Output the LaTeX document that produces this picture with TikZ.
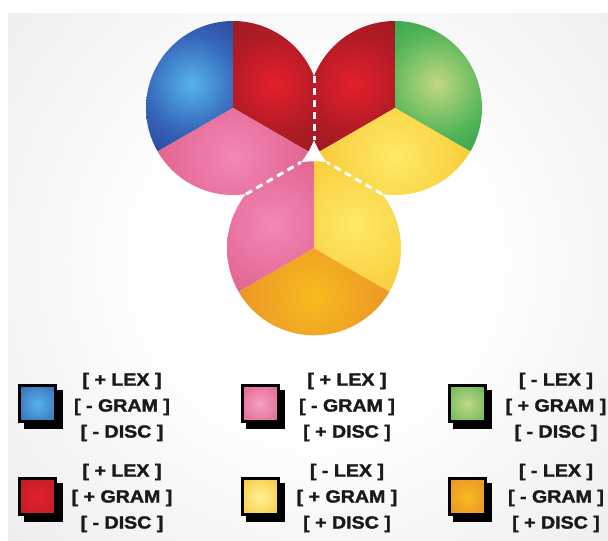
\documentclass[tikz,border=0pt]{standalone}
\usepackage{fontspec}
\newfontfamily\legfont{Liberation Sans Bold}[FakeStretch=1.12,FakeBold=1.8]
\usetikzlibrary{calc}

\definecolor{bgOut}{HTML}{D3CFD5}
\definecolor{blueIn}{HTML}{55B4EA}
\definecolor{blueMid}{HTML}{3463B8}
\definecolor{blueOut}{HTML}{22237E}
\definecolor{redIn}{HTML}{E4202A}
\definecolor{redMid}{HTML}{B01B25}
\definecolor{redOut}{HTML}{80191F}
\definecolor{pinkIn}{HTML}{F287B6}
\definecolor{pinkOut}{HTML}{D84E78}
\definecolor{greenIn}{HTML}{C2D880}
\definecolor{greenMid}{HTML}{52B458}
\definecolor{greenOut}{HTML}{0F8A42}
\definecolor{yellowIn}{HTML}{FFEA68}
\definecolor{yellowOut}{HTML}{F3BA1C}
\definecolor{orangeIn}{HTML}{F7BB1E}
\definecolor{orangeOut}{HTML}{E47F2E}
\definecolor{inkc}{HTML}{1A1A1A}

\pgfdeclareradialshading{bgS}{\pgfpointorigin}{color(0bp)=(white); color(8bp)=(white); color(42bp)=(bgOut); color(50bp)=(bgOut)}
\pgfdeclareradialshading{blueS}{\pgfpointorigin}{color(0bp)=(blueIn); color(15bp)=(blueMid); color(37bp)=(blueOut); color(50bp)=(blueOut)}
\pgfdeclareradialshading{redS}{\pgfpointorigin}{color(0bp)=(redIn); color(15bp)=(redMid); color(38bp)=(redOut); color(50bp)=(redOut)}
\pgfdeclareradialshading{pinkS}{\pgfpointorigin}{color(0bp)=(pinkIn); color(38bp)=(pinkOut); color(50bp)=(pinkOut)}
\pgfdeclareradialshading{greenS}{\pgfpointorigin}{color(0bp)=(greenIn); color(16bp)=(greenMid); color(38bp)=(greenOut); color(50bp)=(greenOut)}
\pgfdeclareradialshading{yellowS}{\pgfpointorigin}{color(0bp)=(yellowIn); color(38bp)=(yellowOut); color(50bp)=(yellowOut)}
\pgfdeclareradialshading{orangeS}{\pgfpointorigin}{color(0bp)=(orangeIn); color(38bp)=(orangeOut); color(50bp)=(orangeOut)}

% legend square shadings
\pgfdeclareradialshading{sqBlue}{\pgfpointorigin}{color(0bp)=(blueIn); color(50bp)=(blueMid!60!blueOut)}
\pgfdeclareradialshading{sqRed}{\pgfpointorigin}{color(0bp)=(redIn); color(50bp)=(redMid)}
\pgfdeclareradialshading{sqPink}{\pgfpointorigin}{color(0bp)=(pinkIn!80!white); color(50bp)=(pinkOut)}
\pgfdeclareradialshading{sqGreen}{\pgfpointorigin}{color(0bp)=(greenIn); color(50bp)=(greenMid!70!greenOut)}
\pgfdeclareradialshading{sqYellow}{\pgfpointorigin}{color(0bp)=(yellowIn!70!white); color(50bp)=(yellowOut)}
\pgfdeclareradialshading{sqOrange}{\pgfpointorigin}{color(0bp)=(orangeIn); color(50bp)=(orangeOut)}

\newcommand\petal[4]{%
  \begin{scope}
    \clip (#1) -- ++(#2:87) arc[start angle=#2,end angle=#3,radius=87] -- cycle;
    \shade[shading=#4] ($(#1)+({(#2+#3)/2}:48)$) circle (82);
  \end{scope}}

\begin{document}
\begin{tikzpicture}[x=1pt,y=1pt,
  chord/.style={white, line width=3, dash pattern=on 7 off 5},
  legsq/.style={draw=black, line width=3, minimum size=36, inner sep=0, shade},
  legshadow/.style={fill=black, minimum size=39, inner sep=0},
  legtext/.style={text=inkc, align=center, inner sep=0,
    font={\legfont\fontsize{17.5}{26}\selectfont}}]
\useasboundingbox (0,0) rectangle (608,541);
\fill[white] (0,0) rectangle (608,541);
\begin{scope}
  \clip (8,0) rectangle (608,527);
  \shade[shading=bgS] (316,280) circle (500);
\end{scope}

\coordinate (L) at (233,433);
\coordinate (R) at (395,433);
\coordinate (B) at (314,292.7);
\coordinate (G) at (314,386.2);
\coordinate (LRo) at (314,464.75);
\coordinate (LRi) at (314,401.25);
\coordinate (LBo) at (246,346.9);
\coordinate (LBi) at (301,378.7);
\coordinate (RBo) at (382,346.9);
\coordinate (RBi) at (327,378.7);

% left circle
\begin{scope}
  \clip (G) -- (314,700) -- (-200,700) -- ($(G)+(210:600)$) -- cycle;
  \petal{L}{90}{210}{blueS}
  \petal{L}{-30}{90}{redS}
  \petal{L}{210}{330}{pinkS}
\end{scope}
% right circle
\begin{scope}
  \clip (G) -- (314,700) -- (830,700) -- ($(G)+(-30:600)$) -- cycle;
  \petal{R}{90}{210}{redS}
  \petal{R}{-30}{90}{greenS}
  \petal{R}{210}{330}{yellowS}
\end{scope}
% bottom circle
\begin{scope}
  \clip (G) -- ($(G)+(210:600)$) -- (-210,-300) -- (840,-300) -- ($(G)+(-30:600)$) -- cycle;
  \petal{B}{90}{210}{pinkS}
  \petal{B}{-30}{90}{yellowS}
  \petal{B}{210}{330}{orangeS}
\end{scope}

\draw[chord] (LRo) -- (LRi);
\draw[chord] (LBo) -- (LBi);
\draw[chord] (RBo) -- (RBi);

% legend
\node[legshadow] (shBlue)   at (43,131) {};
\node[legshadow] (shPink)   at (265.5,131) {};
\node[legshadow] (shGreen)  at (472.5,131) {};
\node[legshadow] (shRed)    at (43,38) {};
\node[legshadow] (shYellow) at (265.5,38) {};
\node[legshadow] (shOrange) at (472.5,38) {};

\node[legsq, shading=sqBlue]   (sqB) at (37.5,137) {};
\node[legsq, shading=sqPink]   (sqP) at (260,137) {};
\node[legsq, shading=sqGreen]  (sqG) at (467,137) {};
\node[legsq, shading=sqRed]    (sqR) at (37.5,44) {};
\node[legsq, shading=sqYellow] (sqY) at (260,44) {};
\node[legsq, shading=sqOrange] (sqO) at (467,44) {};

\node[legtext] (tB) at (122,134) {[ + LEX ]\\{}[ - GRAM ]\\{}[ - DISC ]};
\node[legtext] (tP) at (347,134) {[ + LEX ]\\{}[ - GRAM ]\\{}[ + DISC ]};
\node[legtext] (tG) at (556,134) {[ - LEX ]\\{}[ + GRAM ]\\{}[ - DISC ]};
\node[legtext] (tR) at (122,43) {[ + LEX ]\\{}[ + GRAM ]\\{}[ - DISC ]};
\node[legtext] (tY) at (347,43) {[ - LEX ]\\{}[ + GRAM ]\\{}[ + DISC ]};
\node[legtext] (tO) at (556,43) {[ - LEX ]\\{}[ - GRAM ]\\{}[ + DISC ]};
\end{tikzpicture}
\end{document}
